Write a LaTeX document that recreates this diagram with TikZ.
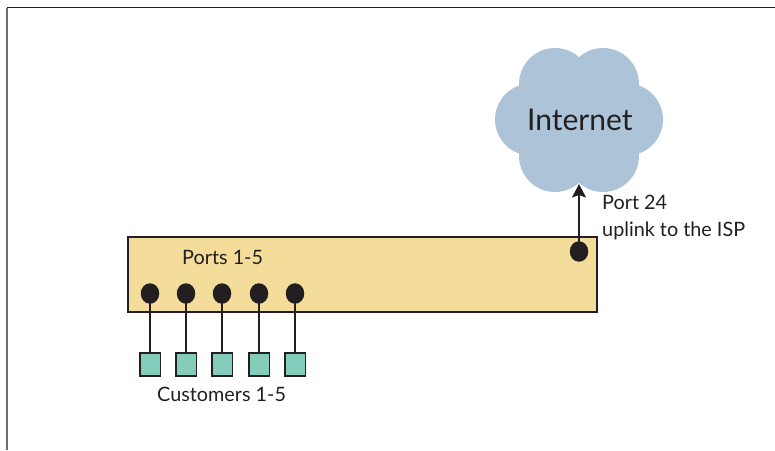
\documentclass[tikz,border=0pt]{standalone}
\usepackage{fontspec}
\setmainfont{Lato}
\usetikzlibrary{arrows.meta,shapes.geometric}
\definecolor{ink}{HTML}{231F20}
\definecolor{cloudblue}{HTML}{ADC4D8}
\definecolor{boxyellow}{HTML}{F4DD9B}
\definecolor{custgreen}{HTML}{84CDBB}
\tikzset{
  frameline/.style={draw=ink,line width=1.2pt},
  switchbox/.style={draw=ink,fill=boxyellow,line width=1.1pt,rectangle,minimum width=469pt,minimum height=75pt,inner sep=0pt},
  portdot/.style={ellipse,fill=ink,minimum width=18.5pt,minimum height=20.5pt,inner sep=0pt},
  customer/.style={draw=ink,fill=custgreen,line width=1.5pt,rectangle,minimum width=20.5pt,minimum height=23pt,inner sep=0pt},
  link/.style={draw=ink,line width=1.6pt},
  lab/.style={text=ink,font=\fontsize{19.8pt}{22pt}\selectfont,inner sep=0pt,anchor=base west},
}
\begin{document}
\begin{tikzpicture}[x=1pt,y=-1pt]
\useasboundingbox (0,0) rectangle (775,450);
% frame
\coordinate (fa) at (7,450);
\coordinate (fb) at (7,7.5);
\coordinate (fc) at (775,7.5);
\draw[frameline,draw=ink!65] (fa) -- (fb);
\draw[frameline] (fb) -- (fc);
% cloud
\fill[cloudblue] (555,84) circle (36pt) (603,84) circle (36pt) (531,119.5) circle (36pt)
  (627,119.5) circle (36pt) (555,156) circle (36pt) (603,156) circle (36pt)
  (579,120) circle (45pt);
\node[lab,font=\fontsize{30pt}{32pt}\selectfont] (internet) at (527,130) {Internet};
\coordinate (cloudbottom) at (579,184);
% switch
\node[switchbox] (switch) at (362.5,274.5) {};
\foreach \n/\x in {1/150,2/186,3/222,4/259,5/295}{
  \node[portdot] (p\n) at (\x,293.5) {};
  \node[customer] (c\n) at (\x,364.5) {};
  \draw[link] (p\n.center) -- (c\n.north);
}
\node[portdot] (p24) at (579,251.5) {};
\draw[link,-{Stealth[length=13.5pt,width=14pt,inset=2.5pt]}] (p24.center) -- (cloudbottom);
% labels
\node[lab] (lports) at (182,264) {Ports 1-5};
\node[lab] (lcust) at (157,401) {Customers 1-5};
\node[lab] (l24) at (602,209.5) {Port 24};
\node[lab] (lup) at (602,236) {uplink to the ISP};
\end{tikzpicture}
\end{document}
